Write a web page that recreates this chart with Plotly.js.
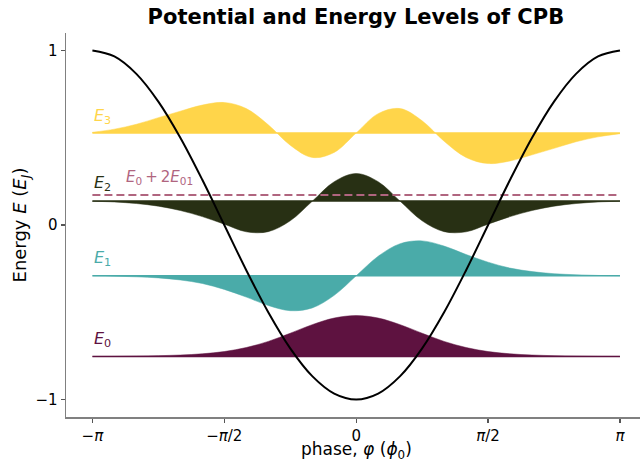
<!DOCTYPE html>
<html>
<head>
<meta charset="utf-8">
<script src="https://cdn.plot.ly/plotly-3.0.1.min.js"></script>
<style>
  html, body { margin: 0; padding: 0; background: #ffffff; }
  #chart { width: 640px; height: 461px; }
</style>
</head>
<body>
<div id="chart"></div>
<script>
// Phase samples across one period, in radians
const phi = [-3.1416, -2.8798, -2.6180, -2.3562, -2.0944, -1.8326, -1.5708, -1.3090,
             -1.0472, -0.7854, -0.5236, -0.2618, 0.0, 0.2618, 0.5236, 0.7854,
             1.0472, 1.3090, 1.5708, 1.8326, 2.0944, 2.3562, 2.6180, 2.8798, 3.1416];

// Josephson potential (in units of E_J)
const potential = [1.000, 0.966, 0.866, 0.707, 0.500, 0.259, 0.000, -0.259,
                   -0.500, -0.707, -0.866, -0.966, -1.000, -0.966, -0.866, -0.707,
                   -0.500, -0.259, 0.000, 0.259, 0.500, 0.707, 0.866, 0.966, 1.000];

// Eigenenergies E_0 .. E_3 (units of E_J)
const levels = [-0.754, -0.291, 0.138, 0.527];
const levelNames = ['E0', 'E1', 'E2', 'E3'];

// Wavefunctions, drawn as offsets above/below their own energy level
const psi0 = [0.001, 0.0015, 0.003, 0.005, 0.009, 0.016, 0.029, 0.052,
              0.087, 0.134, 0.183, 0.221, 0.235, 0.221, 0.183, 0.134,
              0.087, 0.052, 0.029, 0.016, 0.009, 0.005, 0.003, 0.0015, 0.001];
const psi1 = [0.000, -0.002, -0.006, -0.012, -0.024, -0.044, -0.078, -0.122,
              -0.170, -0.200, -0.184, -0.112, 0.000, 0.112, 0.184, 0.200,
              0.170, 0.122, 0.078, 0.044, 0.024, 0.012, 0.006, 0.002, 0.000];
const psi2 = [-0.002, -0.006, -0.015, -0.030, -0.055, -0.090, -0.133, -0.177,
              -0.176, -0.114, -0.002, 0.110, 0.157, 0.110, -0.002, -0.114,
              -0.176, -0.177, -0.133, -0.090, -0.055, -0.030, -0.015, -0.006, -0.002];
const psi3 = [0.004, 0.022, 0.050, 0.088, 0.125, 0.160, 0.175, 0.140,
              0.047, -0.070, -0.140, -0.111, 0.000, 0.111, 0.140, 0.070,
              -0.047, -0.140, -0.175, -0.160, -0.125, -0.088, -0.050, -0.022, -0.004];
const waves = [psi0, psi1, psi2, psi3];

// Tick positions and labels on the phase axis
const xTickVals = [-Math.PI, -Math.PI / 2, 0, Math.PI / 2, Math.PI];
const xTickText = ['\u2212<i>\u03c0</i>', '\u2212<i>\u03c0</i>/2', '0', '<i>\u03c0</i>/2', '<i>\u03c0</i>'];
const yTickVals = [-1, 0, 1];
const yTickText = ['\u22121', '0', '1'];

const levelColors = ['#5e1240', '#4aaba9', '#283014', '#ffd54a'];
const harmonicColor = '#b0657f';
const FONT = 'DejaVu Sans, Verdana, sans-serif';

const traces = [];
levels.forEach((E, n) => {
  const col = levelColors[n];
  // flat baseline at the level
  traces.push({
    x: [phi[0], phi[phi.length - 1]], y: [E, E],
    mode: 'lines', line: { color: col, width: 1.5 },
    hoverinfo: 'skip', showlegend: false
  });
  // wavefunction filled against the baseline
  traces.push({
    x: phi, y: waves[n].map(v => E + v),
    mode: 'lines', line: { color: col, width: 0.5, shape: 'spline', smoothing: 1 },
    fill: 'tonexty', fillcolor: col,
    name: levelNames[n], showlegend: false
  });
});

// E0 + 2 E01 = 2 E1 - E0 : where a harmonic second excitation would sit
const harmonicLevel = levels[0] + 2 * (levels[1] - levels[0]);
traces.push({
  x: [phi[0], phi[phi.length - 1]], y: [harmonicLevel, harmonicLevel],
  mode: 'lines', line: { color: harmonicColor, width: 2, dash: '8px,4px' },
  showlegend: false
});

// cosine potential on top
traces.push({
  x: phi, y: potential, mode: 'lines',
  line: { color: '#000000', width: 2, shape: 'spline', smoothing: 1 },
  showlegend: false
});

const labelTexts = ['<i>E</i><sub>0</sub>', '<i>E</i><sub>1</sub>', '<i>E</i><sub>2</sub>', '<i>E</i><sub>3</sub>'];
const annotations = levels.map((E, n) => ({
  x: phi[0], y: E + 0.097, xref: 'x', yref: 'y',
  text: labelTexts[n], showarrow: false, xanchor: 'left', yanchor: 'middle',
  font: { family: FONT, size: 16, color: levelColors[n] }
}));
annotations.push({
  x: -2.76, y: harmonicLevel + 0.1, xref: 'x', yref: 'y',
  text: '<i>E</i><sub>0</sub>\u2009+\u20092<i>E</i><sub>01</sub>', showarrow: false,
  xanchor: 'left', yanchor: 'middle',
  font: { family: FONT, size: 15, color: harmonicColor }
});
// phase-axis label, centred under phi = 0
annotations.push({
  x: 0, y: -0.0885, xref: 'x', yref: 'paper',
  text: 'phase, <i>\u03c6</i> (<i>\u03d5</i><sub>0</sub>)', showarrow: false,
  xanchor: 'center', yanchor: 'middle',
  font: { family: FONT, size: 17, color: '#000000' }
});

const layout = {
  width: 640, height: 461,
  margin: { l: 66, r: 0, t: 33, b: 44, pad: 0 },
  paper_bgcolor: '#ffffff', plot_bgcolor: '#ffffff',
  font: { family: FONT, size: 15, color: '#000000' },
  title: {
    text: '<b>Potential and Energy Levels of CPB</b>',
    font: { family: FONT, size: 21, color: '#000000' },
    x: 0.505, xref: 'paper', xanchor: 'center',
    y: 20, yref: 'container', yanchor: 'middle'
  },
  xaxis: {
    range: [-3.456, 3.38],
    tickmode: 'array', tickvals: xTickVals, ticktext: xTickText,
    ticks: 'outside', ticklen: 4, tickwidth: 1.2, tickcolor: '#555555',
    showline: true, linecolor: '#808080', linewidth: 1.5, mirror: false,
    showgrid: false, zeroline: false,
    tickfont: { family: FONT, size: 15, color: '#000000' }
  },
  yaxis: {
    range: [-1.1, 1.1],
    tickmode: 'array', tickvals: yTickVals, ticktext: yTickText,
    ticks: 'outside', ticklen: 4, tickwidth: 1.2, tickcolor: '#555555',
    showline: true, linecolor: '#808080', linewidth: 1.5, mirror: false,
    showgrid: false, zeroline: false,
    tickfont: { family: FONT, size: 15, color: '#000000' },
    title: { text: 'Energy <i>E</i> (<i>E</i><sub><i>J</i></sub>)', font: { family: FONT, size: 18 }, standoff: 4 }
  },
  annotations: annotations,
  showlegend: false
};

Plotly.newPlot('chart', traces, layout, { displayModeBar: false, staticPlot: true });
</script>
</body>
</html>
